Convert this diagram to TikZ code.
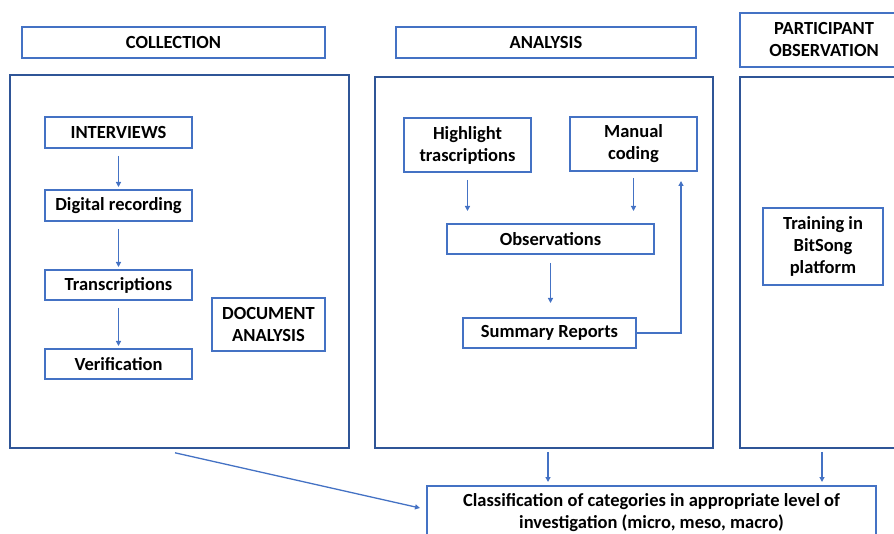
\documentclass[tikz,border=0pt]{standalone}
\usepackage{fontspec}
\setmainfont{Carlito}
\usetikzlibrary{arrows.meta}
\definecolor{officeblue}{RGB}{68,114,196}
\definecolor{panelblue}{RGB}{47,85,151}

\begin{document}
\begin{tikzpicture}[x=1pt, y=-1pt,
  every node/.style={font=\fontsize{18.5}{22}\selectfont\bfseries, align=center, inner sep=0pt},
  headbox/.style={draw=officeblue, line width=2.5pt},
  panelbox/.style={draw=panelblue, line width=1.6pt},
  stepbox/.style={draw=officeblue, line width=2pt},
  arr/.style={officeblue, line width=1.3pt, -{Triangle[length=5pt,width=5pt]}}]

\useasboundingbox (0,0) rectangle (894,534);

% Headers
\node[headbox, minimum width=303pt, minimum height=31pt] (colhead) at (173.5,42.5) {COLLECTION};
\node[headbox, minimum width=300pt, minimum height=31pt] (anahead) at (546,42.5) {ANALYSIS};
\node[headbox, minimum width=168pt, minimum height=54pt] (parthead) at (824,40) {PARTICIPANT\\OBSERVATION};

% Panels
\node[panelbox, minimum width=339pt, minimum height=373pt] (colbox) at (179.5,261.5) {};
\node[panelbox, minimum width=338pt, minimum height=371pt] (anabox) at (544,262.5) {};
\node[panelbox, minimum width=168pt, minimum height=371pt] (partbox) at (824,262.5) {};

% Collection steps
\node[stepbox, minimum width=147pt, minimum height=31pt] (intv) at (118.5,132.5) {INTERVIEWS};
\node[stepbox, minimum width=147pt, minimum height=31pt] (digi) at (118.5,205.5) {Digital recording};
\node[stepbox, minimum width=147pt, minimum height=30pt] (trans) at (118.5,285) {Transcriptions};
\node[stepbox, minimum width=147pt, minimum height=30pt] (verif) at (118.5,364) {Verification};
\node[stepbox, minimum width=113pt, minimum height=53pt] (docana) at (268.5,324.5) {DOCUMENT\\ANALYSIS};

\foreach \a/\b in {intv/digi, digi/trans, trans/verif}
  \draw[arr, shorten <=7pt, shorten >=2pt] (\a.south) -- (\b.north);

% Analysis steps
\node[stepbox, minimum width=127pt, minimum height=54pt] (high) at (467.5,145) {Highlight\\trascriptions};
\node[stepbox, minimum width=127pt, minimum height=54pt] (manual) at (633.5,144) {Manual\\coding};
\node[stepbox, minimum width=207pt, minimum height=30pt] (obs) at (550.5,239) {Observations};
\node[stepbox, minimum width=173pt, minimum height=30pt] (summ) at (549.5,333) {Summary Reports};

\draw[arr, shorten <=7pt, shorten >=12pt] (high.south) -- (high.south |- obs.north);
\draw[arr, shorten <=6pt, shorten >=12pt] (manual.south) -- (manual.south |- obs.north);
\draw[arr, shorten <=8pt, shorten >=14pt] (obs.south) -- (obs.south |- summ.north);
\draw[arr, shorten >=9pt] (summ.east) -| ([xshift=47.5pt]manual.south);

% Participant observation
\node[stepbox, minimum width=120pt, minimum height=77pt] (train) at (823,246.5) {Training in\\BitSong\\platform};

% Classification
\node[stepbox, minimum width=449pt, minimum height=54pt] (cls) at (651.5,513) {Classification of categories in appropriate level of\\investigation (micro, meso, macro)};

\draw[arr] ([xshift=-4.5pt,yshift=-4pt]colbox.south) -- ([xshift=-6pt,yshift=5pt]cls.west);
\draw[arr, shorten <=3pt, shorten >=3pt] ([xshift=4pt]anabox.south) -- ([xshift=4pt]anabox.south |- cls.north);
\draw[arr, shorten <=3pt, shorten >=3pt] ([xshift=-2pt]partbox.south) -- ([xshift=-2pt]partbox.south |- cls.north);

\end{tikzpicture}
\end{document}
